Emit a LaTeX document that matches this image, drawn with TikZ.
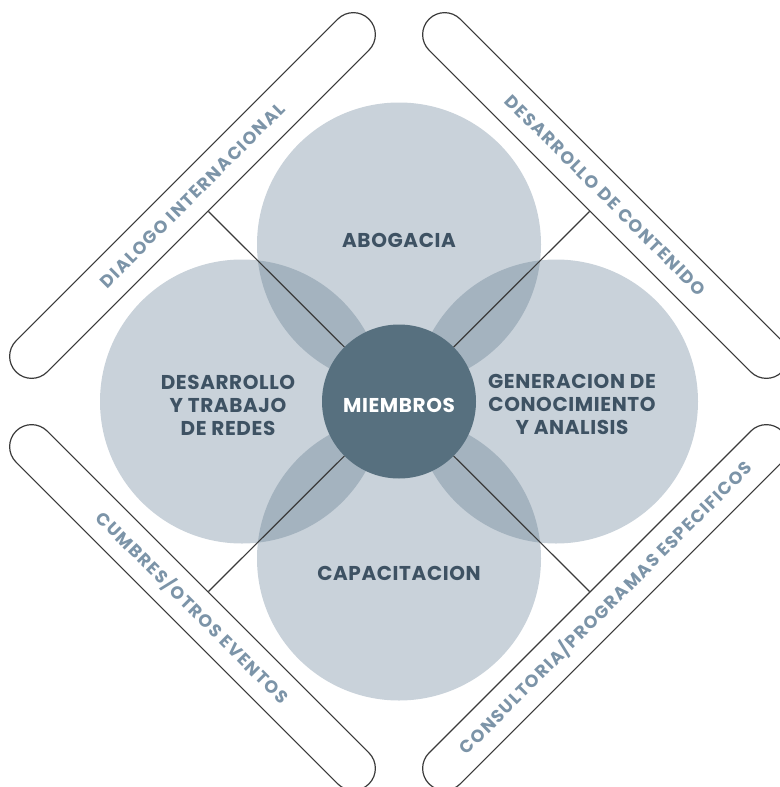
\documentclass[tikz,border=0pt]{standalone}
\usepackage{fontspec}
\setmainfont{Poppins}
\usetikzlibrary{shapes.misc}
\definecolor{lightc}{HTML}{C9D2DA}
\definecolor{overc}{HTML}{A4B3BF}
\definecolor{centc}{HTML}{57707F}
\definecolor{darktext}{HTML}{3E5263}
\definecolor{pilltext}{HTML}{7C94A8}
\definecolor{linec}{HTML}{3A3A3A}
\newcommand{\innerfont}{\fontsize{20}{23}\selectfont\bfseries\addfontfeatures{LetterSpace=3}}
\newcommand{\pillfont}{\fontsize{17.5}{19}\selectfont\bfseries\addfontfeatures{LetterSpace=8}}
\tikzset{
  petal/.style={circle, fill=lightc, minimum size=284pt, inner sep=0pt},
  hub/.style={circle, fill=centc, minimum size=154pt, inner sep=0pt},
  label/.style={text=darktext, align=center, font=\innerfont, inner sep=0pt},
  pill/.style={rounded rectangle, draw=linec, line width=1.2pt, fill=white, minimum width=499pt, minimum height=44pt, inner sep=0pt, text=pilltext, font=\pillfont},
  spoke/.style={draw=linec, line width=1.2pt}
}
\begin{document}
\begin{tikzpicture}[x=1pt,y=-1pt]
\useasboundingbox (0,0) rectangle (779,787);
% petals
\node[petal] (cT) at (399,244.5) {};
\node[petal] (cB) at (399,558.5) {};
\node[petal] (cL) at (242,401.5) {};
\node[petal] (cR) at (556,401.5) {};
% overlaps
\begin{scope}
  \clip (399,244.5) circle (142);
  \fill[overc] (242,401.5) circle (142);
  \fill[overc] (556,401.5) circle (142);
\end{scope}
\begin{scope}
  \clip (399,558.5) circle (142);
  \fill[overc] (242,401.5) circle (142);
  \fill[overc] (556,401.5) circle (142);
\end{scope}
% hub
\node[hub] (m) at (399,401.5) {};
\node[text=white, font=\innerfont, inner sep=0pt] (mt) at (399,405) {MIEMBROS};
% pills
\node[pill, rotate=45] (p1) at (192.5,195.5) {DIALOGO INTERNACIONAL};
\node[pill, rotate=-45] (p2) at (605.5,195.5) {DESARROLLO DE CONTENIDO};
\node[pill, rotate=-45] (p3) at (192.5,607.5) {CUMBRES/OTROS EVENTOS};
\node[pill, rotate=45] (p4) at (605.5,607.5) {CONSULTORIA/PROGRAMAS ESPECIFICOS};
% spokes
\draw[spoke] (p1.south) -- (m);
\draw[spoke] (p2.south) -- (m);
\draw[spoke] (p3.north) -- (m);
\draw[spoke] (p4.north) -- (m);
% labels
\node[label] (lT) at (399,240) {ABOGACIA};
\node[label] (lB) at (399,573) {CAPACITACION};
\node[label] (lL) at (228,405) {DESARROLLO\\Y TRABAJO\\DE REDES};
\node[label] (lR) at (572,404) {GENERACION DE\\CONOCIMIENTO\\Y ANALISIS};
\end{tikzpicture}
\end{document}
